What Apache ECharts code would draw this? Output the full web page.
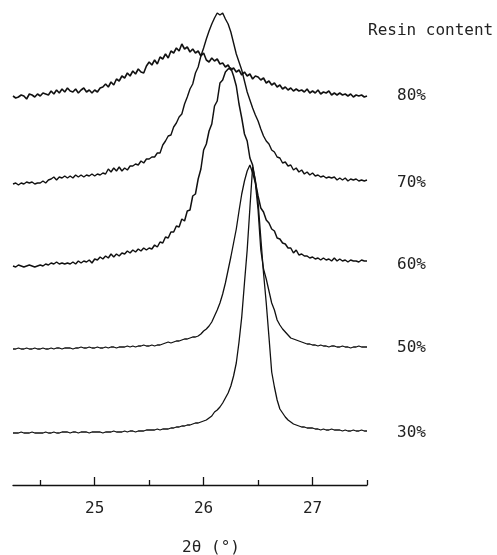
<!DOCTYPE html>
<html>
<head>
<meta charset="utf-8">
<script src="https://cdn.jsdelivr.net/npm/echarts@6/dist/echarts.min.js"></script>
<style>
  html, body { margin: 0; padding: 0; background: #fff; }
  #chart { width: 497px; height: 555px; }
</style>
</head>
<body>
<div id="chart"></div>
<script>
// 2θ values (deg), shared by all patterns
const twoTheta = [
  24.25,24.275,24.3,24.325,24.35,24.375,24.4,24.425,24.45,24.475,
  24.5,24.525,24.55,24.575,24.6,24.625,24.65,24.675,24.7,24.725,
  24.75,24.775,24.8,24.825,24.85,24.875,24.9,24.925,24.95,24.975,
  25,25.025,25.05,25.075,25.1,25.125,25.15,25.175,25.2,25.225,
  25.25,25.275,25.3,25.325,25.35,25.375,25.4,25.425,25.45,25.475,
  25.5,25.525,25.55,25.575,25.6,25.625,25.65,25.675,25.7,25.725,
  25.75,25.775,25.8,25.825,25.85,25.875,25.9,25.925,25.95,25.975,
  26,26.025,26.05,26.075,26.1,26.125,26.15,26.175,26.2,26.225,
  26.25,26.275,26.3,26.325,26.35,26.375,26.4,26.425,26.45,26.475,
  26.5,26.525,26.55,26.575,26.6,26.625,26.65,26.675,26.7,26.725,
  26.75,26.775,26.8,26.825,26.85,26.875,26.9,26.925,26.95,26.975,
  27,27.025,27.05,27.075,27.1,27.125,27.15,27.175,27.2,27.225,
  27.25,27.275,27.3,27.325,27.35,27.375,27.4,27.425,27.45,27.475,
  27.5
];

// intensities (a.u.) above each pattern's own baseline
const int80 = [
  1,-1,0,2,1,-2,3,2,0,3,
  1,4,3,2,6,3,7,4,8,5,
  9,6,5,8,4,7,9,5,7,4,
  7,5,9,10,13,10,15,12,18,16,
  21,19,24,21,26,23,28,25,24,31,
  35,32,37,33,40,38,43,39,46,44,
  49,46,53,48,50,45,48,44,46,41,
  44,37,35,39,36,38,33,34,30,32,
  27,29,25,27,22,25,21,23,18,21,
  20,17,19,14,16,12,14,10,12,8,
  10,7,9,6,8,6,7,5,8,4,
  6,4,7,3,5,4,6,2,4,2,
  4,2,3,1,3,0,2,1,2,0,
  1
];
const int70 = [
  0,1,-1,1,0,2,1,2,0,1,
  1,3,1,4,5,7,4,7,6,8,
  6,8,6,9,7,9,7,9,8,10,
  8,10,9,11,10,15,12,16,13,17,
  13,16,14,18,18,20,19,23,21,25,
  25,27,27,31,31,39,43,48,49,57,
  61,67,70,80,87,95,100,111,117,128,
  136,145,153,160,166,171,169,171,165,160,
  152,141,130,122,114,103,92,84,76,69,
  63,55,48,43,40,34,32,27,26,21,
  22,18,19,14,16,12,14,10,12,9,
  11,8,9,7,8,6,7,6,7,4,
  6,4,6,3,5,4,5,3,4,3,
  4
];
const int60 = [
  0,-1,1,0,-1,0,1,0,-1,0,
  1,0,2,1,3,2,4,2,3,2,
  3,2,4,2,5,3,5,4,6,3,
  7,6,9,7,10,8,12,9,12,10,
  13,12,15,13,16,14,17,15,18,16,
  18,17,21,19,24,23,29,28,34,34,
  40,39,47,45,55,56,70,72,87,97,
  116,122,135,142,160,165,183,186,194,197,
  198,190,180,162,148,132,125,108,101,84,
  70,58,54,46,43,37,35,28,27,23,
  22,18,18,13,16,11,12,10,10,8,
  9,7,8,6,8,6,7,5,8,5,
  7,5,6,4,6,5,5,4,6,5,
  5
];
const int50 = [
  0,0,1,0,0,1,0,0,1,0,
  0,1,0,0,1,0,1,1,0,1,
  1,1,0,1,1,2,1,1,2,1,
  1,2,1,1,2,1,2,2,1,2,
  2,2,3,2,3,2,3,3,4,3,
  3,4,3,4,4,5,6,7,6,7,
  8,8,9,10,10,11,12,12,13,15,
  18,20,23,27,33,39,46,55,66,79,
  92,106,120,138,155,168,178,184,176,166,
  139,99,80,70,58,46,39,29,24,20,
  17,14,11,10,9,8,7,6,5,5,
  4,4,3,4,3,3,2,3,3,2,
  2,3,2,2,1,2,2,3,2,2,
  2
];
const int30 = [
  0,0,0,1,0,0,0,1,0,0,
  0,0,1,0,0,1,0,0,1,1,
  1,0,1,1,0,1,1,1,0,1,
  1,1,1,0,1,1,1,2,1,1,
  1,2,1,2,2,1,2,2,2,3,
  3,3,3,4,3,4,4,4,5,5,
  6,6,7,7,8,8,9,10,10,11,
  12,13,15,17,21,23,26,30,35,40,
  47,57,70,91,116,150,183,225,266,253,
  231,195,160,130,96,61,46,33,24,20,
  16,13,11,9,8,7,6,6,5,5,
  5,4,4,3,4,3,3,4,3,3,
  3,2,3,2,2,3,2,2,3,2,
  2
];

// resin content of each pattern and the vertical shift used to stack them
const contents = ['80%', '70%', '60%', '50%', '30%'];
const patterns = [int80, int70, int60, int50, int30];
const offsets = [388, 301, 219, 136, 52];
const labelShift = [0, 3, 4, 1, 2];

const majorTicks = [25, 26, 27];
const minorTicks = [24.5, 25.5, 26.5, 27.5];

const mono = 'DejaVu Sans Mono';
// noisier scans look heavier in the print
const lineWidths = [1.6, 1.4, 1.5, 1.3, 1.3];
const chart = echarts.init(document.getElementById('chart'));

const series = patterns.map((vals, i) => ({
  name: contents[i],
  type: 'line',
  showSymbol: false,
  silent: true,
  lineStyle: { color: '#111', width: lineWidths[i] },
  data: vals.map((v, j) => [twoTheta[j], v + offsets[i]]),
  endLabel: {
    show: true,
    formatter: '{a}',
    distance: 30,
    offset: [0, labelShift[i]],
    fontFamily: mono,
    fontSize: 16,
    color: '#222'
  }
}));

chart.setOption({
  animation: false,
  backgroundColor: '#fff',
  title: {
    text: 'Resin content',
    left: 363,
    top: 18,
    textStyle: { fontFamily: mono, fontSize: 16, fontWeight: 'normal', color: '#222' }
  },
  grid: { left: 13, right: 130, top: 0, bottom: 70, outerBoundsMode: 'none' },
  xAxis: [
    {
      type: 'value',
      position: 'bottom',
      min: 24.25,
      max: 27.5,
      axisLine: { lineStyle: { color: '#111', width: 1.3 } },
      axisTick: { inside: true, length: 8, customValues: majorTicks, lineStyle: { color: '#111', width: 1.3 } },
      axisLabel: { customValues: majorTicks, margin: 16, fontFamily: mono, fontSize: 16, color: '#222' },
      splitLine: { show: false },
      name: '2θ (°)',
      nameLocation: 'middle',
      nameGap: 55,
      nameTextStyle: { fontFamily: mono, fontSize: 16, color: '#222', padding: [0, 0, 0, 42] }
    },
    {
      type: 'value',
      position: 'bottom',
      min: 24.25,
      max: 27.5,
      axisLine: { show: false },
      axisTick: { inside: true, length: 5, customValues: minorTicks, lineStyle: { color: '#111', width: 1.3 } },
      axisLabel: { show: false, customValues: minorTicks },
      splitLine: { show: false }
    }
  ],
  yAxis: { type: 'value', min: 0, max: 485, show: false },
  series: series
});
</script>
</body>
</html>
